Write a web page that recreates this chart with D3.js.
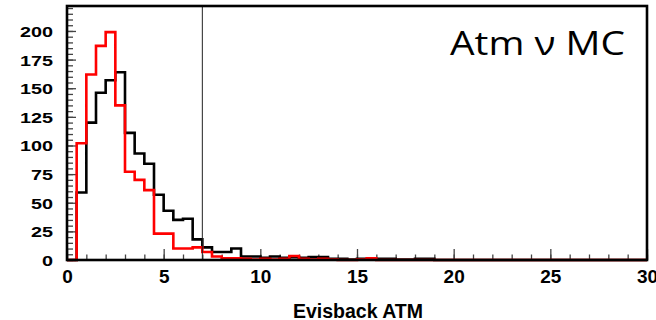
<!DOCTYPE html>
<html>
<head>
<meta charset="utf-8">
<script src="https://cdn.jsdelivr.net/npm/d3@7"></script>
<style>
  body { margin: 0; background: #fff; }
  svg { display: block; }
</style>
</head>
<body>
<div id="chart"></div>
<script>
// histogram bins: 0.5 wide, from 0 to 30
var binEdges = d3.range(0, 30.5, 0.5);

var redCounts = [
  0, 102, 162, 187, 199, 135, 77, 70, 61, 23,
  23, 10, 10, 11, 7, 3, 1.5, 1.5, 1, 0.5,
  1, 0.5, 1, 3.5, 1, 0.5, 1, 0.5, 0, 0,
  0.5, 1.5, 0, 0, 0, 0, 0, 0, 0, 0,
  0, 0, 0, 0, 0, 0, 0, 0, 0, 0,
  0, 0, 0, 0, 0, 0, 0, 0, 0, 0
];

var blackCounts = [
  0, 59, 120, 146, 157, 164, 111, 93, 84, 57,
  43, 35, 36, 18, 11, 7, 7, 10, 3, 3,
  2, 3, 2, 2.5, 2, 2.5, 2.5, 1, 1, 0.5,
  1, 1, 1, 1, 0.5, 0.5, 1, 1, 0, 0,
  0, 0, 0, 0, 0, 0, 0, 0, 0, 0,
  0, 0, 0, 0, 0, 0, 0, 0, 0, 0
];

var xTicks = [0, 5, 10, 15, 20, 25, 30];
var yTicks = [0, 25, 50, 75, 100, 125, 150, 175, 200];
var cutValue = 7;
var xTitle = "Evisback ATM";
var label = "Atm \u03bd MC";

var width = 656, height = 320;
var frameL = 67, frameR = 647, frameT = 6, frameB = 260;

var svg = d3.select("#chart").append("svg")
  .attr("width", width)
  .attr("height", height);

var x = d3.scaleLinear().domain([0, 30]).range([frameL, frameR]);
var y = d3.scaleLinear().domain([0, 221.8]).range([frameB, frameT]);

// minor ticks
var xMinor = d3.axisBottom(x).tickValues(d3.range(0, 31, 1)).tickSize(-5.5).tickFormat("");
var yMinor = d3.axisLeft(y).tickValues(d3.range(0, 221, 5)).tickSize(-6).tickFormat("");

svg.append("g").attr("transform", "translate(0," + frameB + ")").call(xMinor)
  .call(g => g.select(".domain").remove())
  .selectAll("line").attr("stroke", "#444").attr("stroke-width", 1.3);
svg.append("g").attr("transform", "translate(" + frameL + ",0)").call(yMinor)
  .call(g => g.select(".domain").remove())
  .selectAll("line").attr("stroke", "#444").attr("stroke-width", 1.3);

// major ticks + labels
var xAxis = d3.axisBottom(x).tickValues(xTicks).tickSize(-11).tickPadding(0);
var yAxis = d3.axisLeft(y).tickValues(yTicks).tickSize(-9).tickPadding(0);

var gx = svg.append("g").attr("transform", "translate(0," + frameB + ")").call(xAxis);
gx.select(".domain").remove();
gx.selectAll("line").attr("stroke", "#444").attr("stroke-width", 1.3);
gx.selectAll("text")
  .attr("y", 23).attr("dy", 0)
  .style("font-family", "'Liberation Sans', Arial, sans-serif")
  .style("font-weight", "bold")
  .style("font-size", "19px")
  .attr("fill", "#000");

var gy = svg.append("g").attr("transform", "translate(" + frameL + ",0)").call(yAxis);
gy.select(".domain").remove();
gy.selectAll("line").attr("stroke", "#444").attr("stroke-width", 1.3);
gy.selectAll("text")
  .attr("x", -14).attr("dy", "0.36em")
  .style("font-family", "'Liberation Sans', Arial, sans-serif")
  .style("font-weight", "bold")
  .style("font-size", "15px")
  .attr("fill", "#000")
  .attr("textLength", d => String(d).length * 11)
  .attr("lengthAdjust", "spacingAndGlyphs");

// histograms
var step = d3.line()
  .x(d => x(d[0]))
  .y(d => y(d[1]))
  .curve(d3.curveStepAfter);

function histPoints(counts) {
  var pts = counts.map((c, i) => [binEdges[i], c]);
  pts.push([binEdges[counts.length], counts[counts.length - 1]]);
  return pts;
}

svg.append("path")
  .datum(histPoints(blackCounts))
  .attr("d", step)
  .attr("fill", "none")
  .attr("stroke", "#000")
  .attr("stroke-width", 2.6);

svg.append("path")
  .datum(histPoints(redCounts))
  .attr("d", step)
  .attr("fill", "none")
  .attr("stroke", "#ff0000")
  .attr("stroke-width", 2.6);

// cut line
svg.append("line")
  .attr("x1", x(cutValue)).attr("x2", x(cutValue))
  .attr("y1", frameT).attr("y2", frameB)
  .attr("stroke", "#222")
  .attr("stroke-width", 1);

// frame
svg.append("rect")
  .attr("x", frameL).attr("y", frameT)
  .attr("width", frameR - frameL).attr("height", frameB - frameT)
  .attr("fill", "none")
  .attr("stroke", "#000")
  .attr("stroke-width", 2.6);

// axis title
svg.append("text")
  .attr("x", 358).attr("y", 318)
  .attr("text-anchor", "middle")
  .style("font-family", "'Liberation Sans', Arial, sans-serif")
  .style("font-weight", "bold")
  .style("font-size", "19.5px")
  .text(xTitle);

// sample label
svg.append("text")
  .attr("x", 450).attr("y", 55)
  .style("font-family", "'Open Sans', sans-serif")
  .style("font-size", "32px")
  .attr("textLength", 175)
  .attr("lengthAdjust", "spacingAndGlyphs")
  .text(label);
</script>
</body>
</html>
